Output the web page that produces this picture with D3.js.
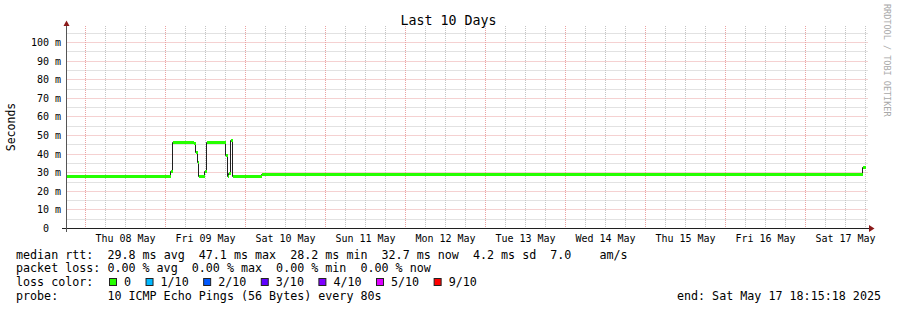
<!DOCTYPE html>
<html><head><meta charset="utf-8">
<script src="https://cdn.jsdelivr.net/npm/d3@7"></script>
<style>
body{margin:0;background:#fff}
text{font-family:"DejaVu Sans Mono",monospace;white-space:pre;fill:#000}
</style>
</head><body>
<svg id="chart" width="897" height="310"></svg>
<script>
// ---------------- data ----------------
const chartTitle = "Last 10 Days";
const yAxisTitle = "Seconds";
const watermark = "RRDTOOL / TOBI OETIKER";
const startTime = "2025-05-07 18:15:18";
const endTime = "2025-05-17 18:15:18";
const lastSampleTime = "2025-05-17 18:00:00";
// median rtt step changes (time the value begins) and value in ms
const stepTimes = [
  "2025-05-07 18:15:18", "2025-05-09 01:33:00", "2025-05-09 02:02:00",
  "2025-05-09 08:27:00", "2025-05-09 09:03:00", "2025-05-09 09:32:00",
  "2025-05-09 09:57:00", "2025-05-09 11:45:00", "2025-05-09 12:14:00",
  "2025-05-09 17:55:00", "2025-05-09 18:31:00", "2025-05-09 18:57:00",
  "2025-05-09 19:25:00", "2025-05-09 20:01:00", "2025-05-10 04:56:00",
  "2025-05-17 17:05:00"
];
const medianRtt = [
  28.2, 30.8, 46.5,
  45.9, 41.0, 35.6,
  28.2, 30.8, 46.5,
  39.0, 28.2, 29.7,
  47.1, 28.2, 28.9,
  32.7
];
const yTickValues = [0, 10, 20, 30, 40, 50, 60, 70, 80, 90, 100];
const yTickUnit = "m";
const yMax = 108.9;
const lossLabels = ["0", "1/10", "2/10", "3/10", "4/10", "5/10", "9/10"];
const lossColors = ["#26ff00", "#00b8ff", "#0059ff", "#5e00ff", "#7e00ff", "#dd00ff", "#ff0000"];
const legendRows = [
  "median rtt:  29.8 ms avg  47.1 ms max  28.2 ms min  32.7 ms now  4.2 ms sd  7.0    am/s",
  "packet loss: 0.00 % avg  0.00 % max  0.00 % min  0.00 % now",
  "loss color:",
  "probe:       10 ICMP Echo Pings (56 Bytes) every 80s"
];
const endLabel = "end: Sat May 17 18:15:18 2025";

// ---------------- drawing ----------------
const parse = d3.timeParse("%Y-%m-%d %H:%M:%S");
const t0 = parse(startTime), t1 = parse(endTime), tLast = parse(lastSampleTime);
const svg = d3.select("#chart");
const x = d3.scaleTime().domain([t0, t1]).range([66.4, 866.4]);
const y = d3.scaleLinear().domain([0, yMax]).range([228.5, 26]);
const px = v => Math.floor(x(v)) + 0.5;
const py = v => Math.floor(y(v)) + 0.5;
const CW = 7.03; // legend char advance

const grid = svg.append("g");
d3.range(5, yMax, 5).forEach(v => {
  grid.append("line").attr("x1", 66.5).attr("x2", 868).attr("y1", py(v)).attr("y2", py(v))
    .attr("stroke", v % 10 === 0 ? "#eaa2a2" : "#c4c4c4").attr("stroke-dasharray", "1,1");
});
const days = new Set(d3.timeDay.range(t0, t1).map(d => +d));
d3.timeHour.every(6).range(t0, t1).forEach(t => {
  const major = days.has(+t);
  grid.append("line").attr("x1", px(t)).attr("x2", px(t)).attr("y1", 26).attr("y2", 228)
    .attr("stroke", major ? "#eaa2a2" : "#c4c4c4").attr("stroke-dasharray", "1,1");
});

// data
const pts = stepTimes.map((s, i) => ({t: parse(s), v: medianRtt[i]}));
const segs = pts.map((p, i) => ({t0: p.t, t1: i < pts.length - 1 ? pts[i + 1].t : tLast, v: p.v}));
const linePts = pts.concat([{t: tLast, v: medianRtt[medianRtt.length - 1]}]);
svg.append("path")
  .attr("d", d3.line().x(d => px(d.t)).y(d => py(d.v)).curve(d3.curveStepAfter)(linePts))
  .attr("fill", "none").attr("stroke", "#202020").attr("stroke-width", 1);
svg.append("g").selectAll("line").data(segs).join("line")
  .attr("x1", d => px(d.t0) + 0.5).attr("x2", d => px(d.t1) + 0.5)
  .attr("y1", d => py(d.v)).attr("y2", d => py(d.v))
  .attr("stroke", lossColors[0]).attr("stroke-width", 3);

// axes
svg.append("line").attr("x1", 62).attr("x2", 870).attr("y1", 228.5).attr("y2", 228.5).attr("stroke", "#202020");
svg.append("line").attr("x1", 66.5).attr("x2", 66.5).attr("y1", 232).attr("y2", 25).attr("stroke", "#555");
svg.append("path").attr("d", "M63.5,26L69.5,26L66.5,20.5Z").attr("fill", "#8b1a1a");
svg.append("path").attr("d", "M869,225L869,232L874.5,228.5Z").attr("fill", "#8b1a1a");

// y labels
svg.append("g").selectAll("text").data(yTickValues).join("text")
  .attr("x", d => d === 0 ? 49 : 61).attr("y", d => py(d) + 3.5)
  .attr("text-anchor", "end").attr("font-size", "10px")
  .text(d => d === 0 ? "0" : d + " " + yTickUnit);
// x labels at noon
const fmt = d3.timeFormat("%a %d %b");
d3.timeDay.range(d3.timeDay.ceil(t0), t1).forEach(d => {
  const noon = d3.timeHour.offset(d, 12);
  if (noon > t1) return;
  svg.append("text").attr("x", x(noon)).attr("y", 241.5).attr("text-anchor", "middle")
    .attr("font-size", "10px").text(fmt(noon));
});

// titles
svg.append("text").attr("x", 448.5).attr("y", 24.5).attr("text-anchor", "middle")
  .attr("font-size", "13.3px").text(chartTitle);
svg.append("text").attr("transform", "translate(15,127) rotate(-90)").attr("text-anchor", "middle")
  .attr("font-size", "11.5px").text(yAxisTitle);
svg.append("text").attr("transform", "translate(884,4) rotate(90)")
  .attr("font-size", "8.5px").style("fill", "#a8a8a8").text(watermark);

// legend
const rowY = [258.5, 272, 286, 300];
legendRows.forEach((r, i) => {
  svg.append("text").attr("x", 16).attr("y", rowY[i]).attr("font-size", "11.7px")
    .attr("textLength", r.length * CW).attr("lengthAdjust", "spacing").text(r);
});
let lx = 109;
lossLabels.forEach((l, i) => {
  svg.append("rect").attr("x", lx + 0.5).attr("y", rowY[2] - 7.5).attr("width", 7).attr("height", 7)
    .attr("fill", lossColors[i]).attr("stroke", "#222");
  svg.append("text").attr("x", lx + 15).attr("y", rowY[2]).attr("font-size", "11.7px").text(l);
  lx += 15 + l.length * CW + 14.5;
});
svg.append("text").attr("x", 881).attr("y", rowY[3]).attr("font-size", "11.7px")
  .attr("text-anchor", "end").text(endLabel);
</script>
</body></html>
